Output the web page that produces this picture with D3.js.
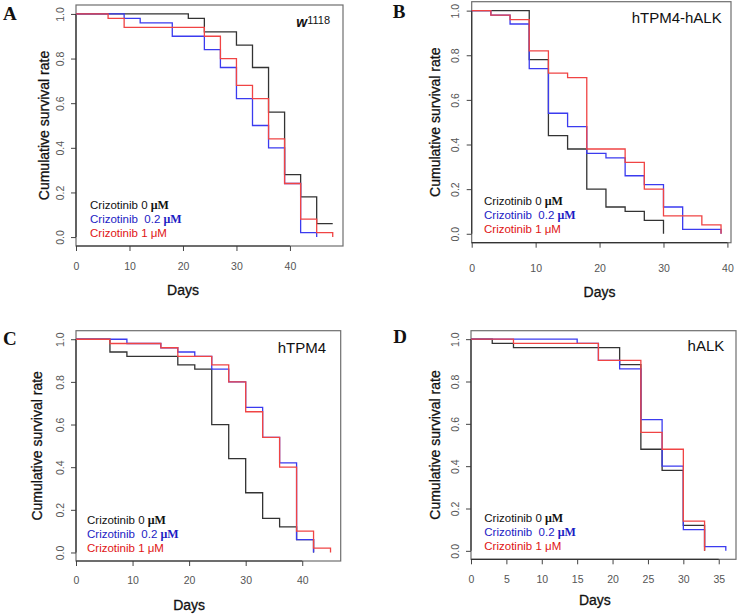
<!DOCTYPE html>
<html>
<head>
<meta charset="utf-8">
<script src="https://cdn.jsdelivr.net/npm/d3@7"></script>
<style>
  body { margin: 0; background: #fff; }
  svg { display: block; }
</style>
</head>
<body>
<div></div>
<script>
// tick labels
const dayTicks = [0, 10, 20, 30, 40];
const dayTicksD = [0, 5, 10, 15, 20, 25, 30, 35];
const rateTicks = [0, 0.2, 0.4, 0.6, 0.8, 1.0];

// legend
const doseLabels = ['Crizotinib 0', 'Crizotinib\u00a0\u00a00.2', 'Crizotinib 1'];

// A: w1118
const aDays0 = [0, 21, 24, 30, 33, 36, 39, 42, 45, 48];
const aSurv0 = [1, 0.98, 0.92, 0.86, 0.76, 0.56, 0.28, 0.18, 0.06, 0.06];
const aDays02 = [0, 9, 12, 18, 24, 27, 30, 33, 36, 39, 42, 45];
const aSurv02 = [1, 0.98, 0.96, 0.90, 0.84, 0.76, 0.62, 0.50, 0.40, 0.24, 0.02, 0];
const aDays1 = [0, 6, 9, 24, 27, 30, 33, 36, 39, 42, 45, 48];
const aSurv1 = [1, 0.98, 0.94, 0.90, 0.80, 0.68, 0.62, 0.44, 0.24, 0.08, 0.02, 0];

// B: hTPM4-hALK
const bDays0 = [0, 9, 12, 15, 18, 21, 24, 27, 30];
const bSurv0 = [1, 0.78, 0.44, 0.38, 0.20, 0.12, 0.10, 0.06, 0];
const bDays02 = [0, 3, 6, 9, 12, 15, 18, 21, 24, 27, 30, 33, 39];
const bSurv02 = [1, 0.98, 0.94, 0.74, 0.54, 0.48, 0.36, 0.34, 0.26, 0.22, 0.12, 0.02, 0];
const bDays1 = [0, 3, 6, 9, 12, 15, 18, 24, 27, 30, 36, 39];
const bSurv1 = [1, 0.98, 0.96, 0.82, 0.72, 0.70, 0.38, 0.32, 0.20, 0.08, 0.04, 0];

// C: hTPM4
const cDays0 = [0, 6, 9, 18, 21, 24, 27, 30, 33, 36, 39, 42];
const cSurv0 = [1, 0.94, 0.92, 0.88, 0.86, 0.60, 0.44, 0.28, 0.16, 0.12, 0.06, 0];
const cDays02 = [0, 9, 15, 18, 21, 24, 27, 30, 33, 36, 39, 42];
const cSurv02 = [1, 0.98, 0.96, 0.94, 0.92, 0.86, 0.80, 0.68, 0.54, 0.42, 0.06, 0];
const cDays1 = [0, 6, 15, 18, 24, 27, 30, 33, 36, 39, 42, 45];
const cSurv1 = [1, 0.98, 0.96, 0.92, 0.88, 0.80, 0.66, 0.54, 0.40, 0.10, 0.02, 0];

// D: hALK
const dDays0 = [0, 3, 6, 21, 24, 27, 30, 33];
const dSurv0 = [1, 0.98, 0.96, 0.88, 0.48, 0.38, 0.12, 0];
const dDays02 = [0, 15, 18, 21, 24, 27, 30, 33, 36];
const dSurv02 = [1, 0.98, 0.90, 0.86, 0.62, 0.40, 0.10, 0.02, 0];
const dDays1 = [0, 6, 18, 24, 27, 30, 33];
const dSurv1 = [1, 0.98, 0.90, 0.56, 0.48, 0.14, 0];

const lineColors = ['#333333', '#3b3bef', '#f04444'];
const textColors = ['#111111', '#1c1cc4', '#e01414'];
const sans = '"Liberation Sans", Arial, Helvetica, sans-serif';
const serif = '"Liberation Serif", "Times New Roman", serif';

const zip = (days, surv) => days.map((d, i) => [d, surv[i]]);

const panels = [
  { tag: 'A', strain: 'w', xmax: 48, ticks: dayTicks,
    left: 76, right: 343, top: 5, bottom: 246,
    tagX: 3, tagY: 20, strainX: 330, strainY: 27,
    yTitleX: 49, xLabY: 24, daysY: 49, legX: 90,
    curves: [zip(aDays0, aSurv0), zip(aDays02, aSurv02), zip(aDays1, aSurv1)] },
  { tag: 'B', strain: 'hTPM4-hALK', xmax: 39, ticks: dayTicks,
    left: 471.7, right: 731, top: 1.7, bottom: 242.7,
    tagX: 392.7, tagY: 18.3, strainX: 721.7, strainY: 23.3,
    yTitleX: 440, xLabY: 29.5, daysY: 54, legX: 484,
    curves: [zip(bDays0, bSurv0), zip(bDays02, bSurv02), zip(bDays1, bSurv1)] },
  { tag: 'C', strain: 'hTPM4', xmax: 45, ticks: dayTicks,
    left: 76, right: 340.7, top: 330.7, bottom: 561,
    tagX: 3, tagY: 345, strainX: 326, strainY: 353.3,
    yTitleX: 42, xLabY: 23, daysY: 49, legX: 87,
    curves: [zip(cDays0, cSurv0), zip(cDays02, cSurv02), zip(cDays1, cSurv1)] },
  { tag: 'D', strain: 'hALK', xmax: 36, ticks: dayTicksD,
    left: 471, right: 736, top: 330.7, bottom: 559.3,
    tagX: 393.3, tagY: 343.3, strainX: 724.3, strainY: 350.7,
    yTitleX: 440, xLabY: 23.4, daysY: 46, legX: 484.3,
    curves: [zip(dDays0, dSurv0), zip(dDays02, dSurv02), zip(dDays1, dSurv1)] }
];

const svg = d3.select('body').select('div')
  .append('svg')
  .attr('width', 738)
  .attr('height', 614)
  .style('font-family', sans);

panels.forEach(p => {
  const x = d3.scaleLinear().domain([0, p.xmax * 1.04]).range([p.left, p.right]);
  const y = d3.scaleLinear().domain([-0.04, 1.04]).range([p.bottom, p.top]);
  const g = svg.append('g');

  // frame
  g.append('rect')
    .attr('x', p.left).attr('y', p.top)
    .attr('width', p.right - p.left).attr('height', p.bottom - p.top)
    .attr('fill', 'none').attr('stroke', '#6e6e6e').attr('stroke-width', 1.2);

  // x axis
  const xAxis = g.append('g')
    .attr('transform', `translate(0, ${p.bottom})`)
    .call(d3.axisBottom(x).tickValues(p.ticks).tickSize(5).tickSizeOuter(0).tickFormat(d3.format('d')));
  xAxis.select('.domain').remove();
  xAxis.append('line')
    .attr('x1', x(p.ticks[0])).attr('x2', x(p.ticks[p.ticks.length - 1]))
    .attr('stroke', '#333').attr('stroke-width', 1.2);
  xAxis.selectAll('.tick line').attr('stroke', '#444');
  xAxis.selectAll('.tick text')
    .attr('y', p.xLabY).attr('dy', 0)
    .attr('fill', '#555').style('font-size', '10.5px').style('font-family', sans);

  // y axis
  const yAxis = g.append('g')
    .attr('transform', `translate(${p.left}, 0)`)
    .call(d3.axisLeft(y).tickValues(rateTicks).tickSize(5).tickSizeOuter(0).tickFormat(d3.format('.1f')));
  yAxis.select('.domain').remove();
  yAxis.append('line')
    .attr('y1', y(0)).attr('y2', y(1))
    .attr('stroke', '#333').attr('stroke-width', 1.2);
  yAxis.selectAll('.tick line').attr('stroke', '#444');
  yAxis.selectAll('.tick text')
    .attr('transform', 'rotate(-90)')
    .attr('x', 0).attr('y', -12.5).attr('dy', 0)
    .attr('text-anchor', 'middle')
    .attr('fill', '#555').style('font-size', '10.5px').style('font-family', sans);

  // axis titles
  g.append('text')
    .attr('transform', `translate(${p.yTitleX}, ${(p.top + p.bottom) / 2}) rotate(-90)`)
    .attr('text-anchor', 'middle')
    .style('font-size', '14px')
    .attr('fill', '#111')
    .attr('stroke', '#111').attr('stroke-width', 0.3)
    .text('Cumulative survival rate');

  g.append('text')
    .attr('x', (x(0) + x(p.ticks[p.ticks.length - 1])) / 2)
    .attr('y', p.bottom + p.daysY)
    .attr('text-anchor', 'middle')
    .style('font-size', '14px')
    .attr('fill', '#111')
    .attr('stroke', '#111').attr('stroke-width', 0.3)
    .text('Days');

  // survival curves
  const line = d3.line()
    .x(d => x(d[0]))
    .y(d => y(d[1]))
    .curve(d3.curveStepAfter);

  p.curves.forEach((c, i) => {
    g.append('path')
      .datum(c)
      .attr('d', line)
      .attr('fill', 'none')
      .attr('stroke', lineColors[i])
      .attr('stroke-width', 1.3);
  });

  // legend
  const legOff = [-37.5, -23.5, -9.5];
  doseLabels.forEach((lab, i) => {
    const t = g.append('text')
      .attr('x', p.legX)
      .attr('y', p.bottom + legOff[i])
      .attr('fill', textColors[i])
      .style('font-size', '11.5px');
    t.append('tspan').text(lab + ' ');
    if (i < 2) {
      t.append('tspan')
        .style('font-family', serif)
        .style('font-weight', 'bold')
        .style('font-size', '12px')
        .text('\u03bcM');
    } else {
      t.append('tspan').text('\u03bcM');
    }
  });

  // panel letter
  g.append('text')
    .attr('x', p.tagX).attr('y', p.tagY)
    .style('font-family', serif)
    .style('font-weight', 'bold')
    .style('font-size', '19px')
    .attr('fill', '#111')
    .text(p.tag);

  // strain label
  const s = g.append('text')
    .attr('x', p.strainX).attr('y', p.strainY)
    .attr('text-anchor', 'end')
    .attr('fill', '#111')
    .style('font-size', '15px');
  if (p.tag === 'A') {
    s.append('tspan')
      .style('font-style', 'italic')
      .style('font-weight', 'bold')
      .style('font-size', '14px')
      .text('w');
    s.append('tspan')
      .attr('dy', -3)
      .style('font-size', '11px')
      .text('1118');
  } else {
    s.text(p.strain);
  }
});
</script>
</body>
</html>
